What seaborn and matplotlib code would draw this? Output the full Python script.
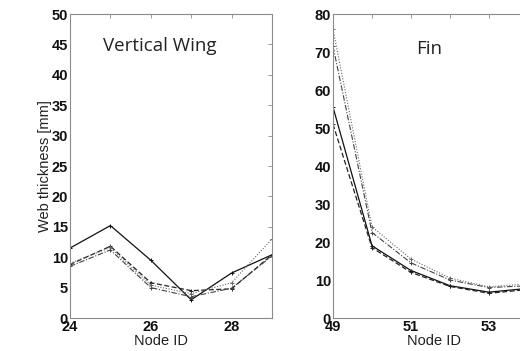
import numpy as np
import pandas as pd
import matplotlib
matplotlib.use("Agg")
import matplotlib.pyplot as plt
import seaborn as sns

# ---- data ----
wing_nodes = [24, 25, 26, 27, 28, 29]
wing_solid = [11.5, 15.2, 9.5, 3.0, 7.4, 10.4]
wing_dashed = [8.8, 11.8, 5.8, 4.5, 4.8, 10.4]
wing_dashdot = [8.5, 11.2, 5.0, 3.5, 4.9, 10.2]
wing_dotted = [9.0, 11.6, 5.4, 4.0, 5.8, 13.0]

fin_nodes = [49, 50, 51, 52, 53, 54]
fin_solid = [55.5, 19.0, 12.5, 8.5, 6.8, 7.8]
fin_dashed = [51.0, 18.5, 12.0, 8.3, 6.5, 7.5]
fin_dashdot = [71.5, 22.5, 14.5, 10.0, 8.0, 8.5]
fin_dotted = [76.0, 24.0, 15.5, 10.5, 8.2, 9.0]

series_names = ["solid", "dashed", "dashdot", "dotted"]

sns.set_theme(style="white")
plt.rcParams['font.family'] = ['Liberation Sans', 'DejaVu Sans']

fig = plt.figure(figsize=(5.2, 3.51), dpi=100)
ax1 = fig.add_axes([70/520, 33/351, 202/520, 304/351])
ax2 = fig.add_axes([333/520, 33/351, 195/520, 304/351])

styles = {
    "solid": dict(color="#111111", ls="-", lw=0.9),
    "dashed": dict(color="#222222", ls=(0, (4, 2)), lw=0.9),
    "dashdot": dict(color="#444444", ls=(0, (5, 1.5, 1, 1.5)), lw=0.8),
    "dotted": dict(color="#666666", ls=(0, (1, 1.5)), lw=0.8),
}

def draw(ax, nodes, vals):
    for name, v in zip(series_names, vals):
        df = pd.DataFrame({"node": nodes, "val": v})
        st = styles[name]
        sns.lineplot(data=df, x="node", y="val", ax=ax, color=st["color"],
                     linewidth=st["lw"], marker="+", markersize=3.5,
                     markeredgewidth=0.7, markeredgecolor=st["color"])
        ax.lines[-1].set_linestyle(st["ls"])

draw(ax1, wing_nodes, [wing_solid, wing_dashed, wing_dashdot, wing_dotted])
draw(ax2, fin_nodes, [fin_solid, fin_dashed, fin_dashdot, fin_dotted])

ax1.set_xlim(24, 29)
ax1.set_ylim(0, 50)
ax1.set_xticks([24, 25, 26, 27, 28, 29])
ax1.set_xticklabels(["24", "", "26", "", "28", ""])
ax1.set_yticks(np.arange(0, 51, 5))
ax1.set_yticklabels([str(v) for v in range(0, 51, 5)])

ax2.set_xlim(49, 54)
ax2.set_ylim(0, 80)
ax2.set_xticks([49, 50, 51, 52, 53, 54])
ax2.set_xticklabels(["49", "", "51", "", "53", ""])
ax2.set_yticks(np.arange(0, 81, 10))
ax2.set_yticklabels([str(v) for v in range(0, 81, 10)])

for ax in (ax1, ax2):
    for sp in ax.spines.values():
        sp.set_visible(True)
        sp.set_color("#8c8c8c")
        sp.set_linewidth(0.8)
    ax.tick_params(axis="both", which="both", direction="in", length=3,
                   width=0.6, color="#8c8c8c", top=True, right=True,
                   labelsize=10.5, pad=1.5, labelcolor="#111111")
    ax.tick_params(axis="x", pad=1.5)
    for lab in ax.get_xticklabels() + ax.get_yticklabels():
        lab.set_fontweight("bold")
    ax.set_xlabel("Node ID", fontsize=10.5, color="#222222")
    ax.set_ylabel("")

ax1.xaxis.set_label_coords(0.45, -0.054, transform=ax1.transAxes)
ax1.xaxis.label.set_va("top")
ax2.xaxis.set_label_coords(0.52, -0.054, transform=ax2.transAxes)
ax2.xaxis.label.set_va("top")

ax1.set_ylabel("Web thickness [mm]", fontsize=10.5, color="#222222")
ax1.yaxis.set_label_coords(-0.09, 0.5)

ax1.text(0.445, 0.895, "Vertical Wing", transform=ax1.transAxes, ha="center",
         va="center", fontsize=13.5, family=["Open Sans", "DejaVu Sans"], color="#222222")
ax2.text(0.495, 0.885, "Fin", transform=ax2.transAxes, ha="center",
         va="center", fontsize=13.5, family=["Open Sans", "DejaVu Sans"], color="#222222")

fig.savefig("out.png", dpi=100)
